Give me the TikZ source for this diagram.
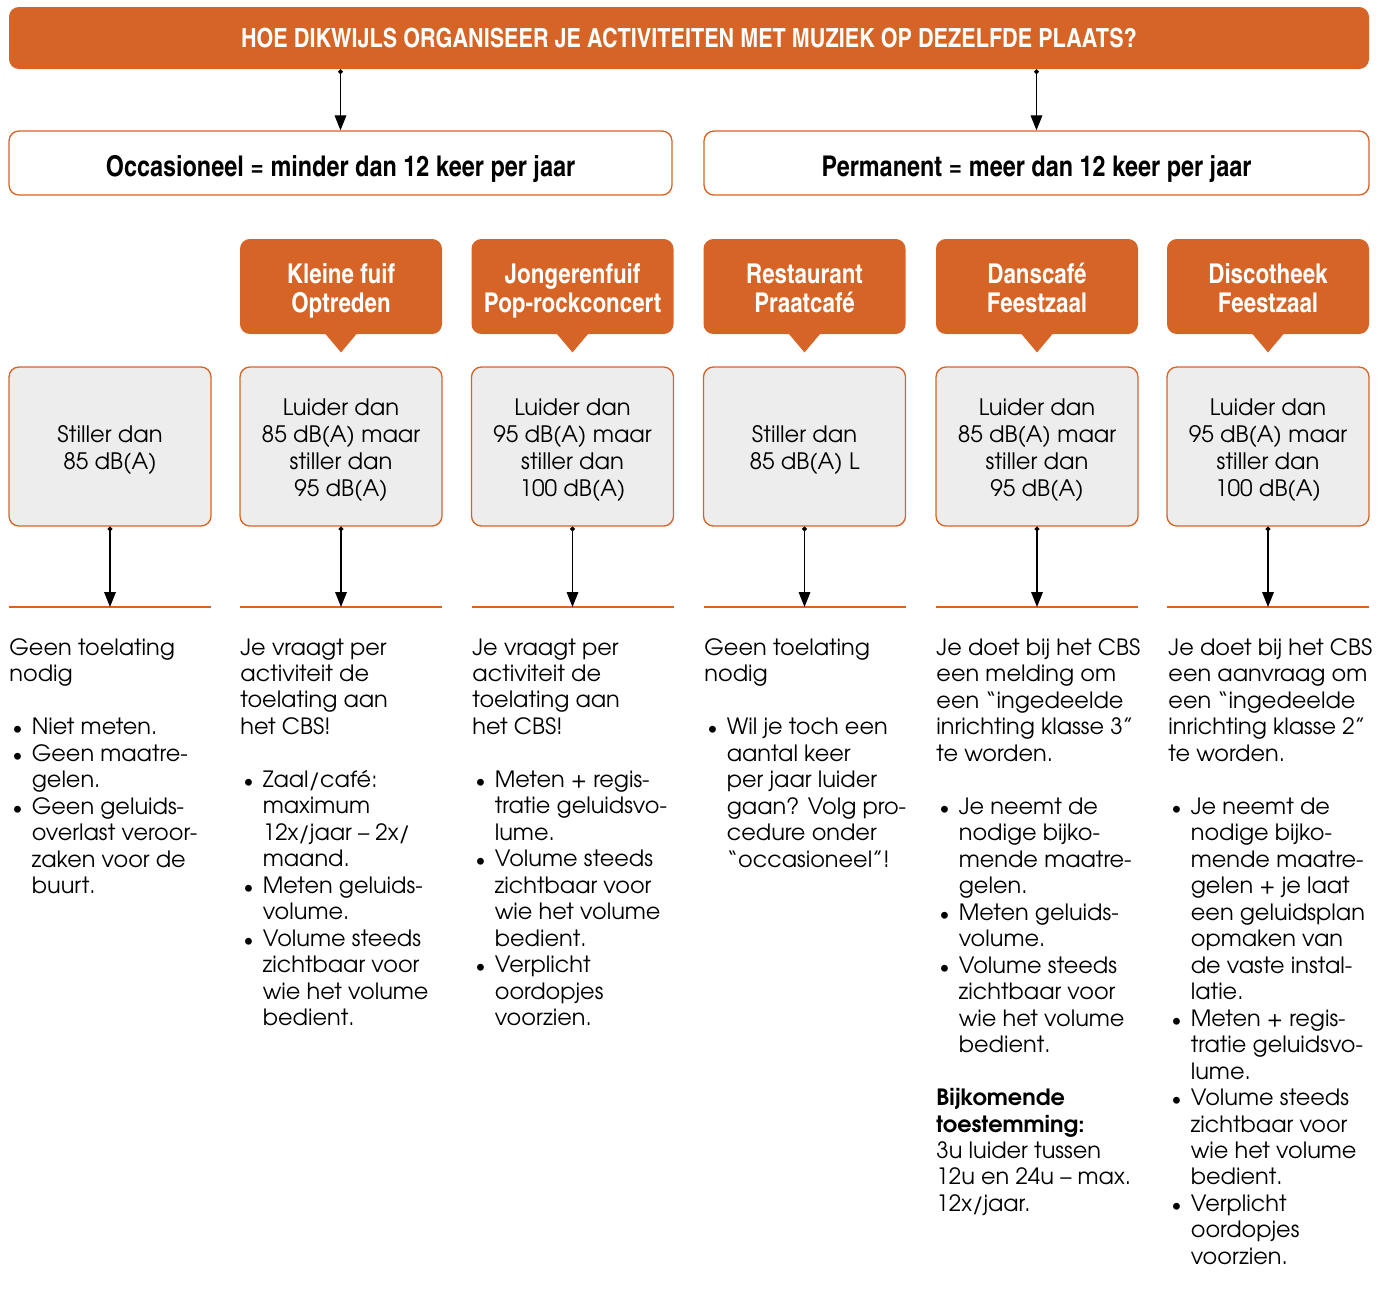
\documentclass[tikz,border=0pt]{standalone}
\usepackage{fontspec}
\setmainfont{texgyreadventor}[Extension=.otf,UprightFont=*-regular,BoldFont=*-bold,ItalicFont=*-italic,BoldItalicFont=*-bolditalic]
\newfontfamily\kopfont{texgyreheroscn}[Extension=.otf,UprightFont=*-bold,BoldFont=*-bold]
\usetikzlibrary{arrows.meta,positioning}
\definecolor{oranje}{RGB}{214,100,38}
\definecolor{lichtgrijs}{RGB}{237,237,237}
\def\pxu{0.455pt}
\newcommand\bul{\makebox[10.2pt][l]{\hspace{1.4pt}\scalebox{0.85}{\textbullet}}}
\newcommand\bsp{\makebox[10.2pt]{}}
\newcommand\bovenstrut{\rule{0pt}{12.2pt}}
\newcommand\onderstrut{\rule[-3.66pt]{0pt}{3.66pt}}
\tikzset{
  titelbalk/.style={fill=oranje,rounded corners=4.5pt,minimum width=1360*\pxu,minimum height=62*\pxu,
    text=white,text height=8.2pt,text depth=0pt,font=\kopfont\fontsize{12pt}{14pt}\selectfont},
  keuze/.style={draw=oranje,line width=0.6pt,fill=white,rounded corners=4.5pt,minimum height=64*\pxu,
    text height=14.8pt,text depth=2.9pt,font=\kopfont\fontsize{13pt}{15pt}\selectfont},
  soort/.style={fill=oranje,rounded corners=4.5pt,minimum width=202*\pxu,minimum height=95*\pxu,
    text=white,align=center,font=\kopfont\fontsize{12.4pt}{13.2pt}\selectfont},
  grens/.style={draw=oranje,line width=0.6pt,fill=lichtgrijs,rounded corners=4.5pt,minimum width=202*\pxu,
    minimum height=159*\pxu,align=center,font=\fontsize{10.3pt}{12.2pt}\selectfont},
  uitleg/.style={anchor=north west,inner sep=0pt,align=left,font=\fontsize{10.2pt}{12.05pt}\selectfont},
  pijl/.style={line width=0.5pt,{Circle[length=2.1pt]}-{Triangle[length=6.8pt,width=5.3pt]}},
  lijn/.style={draw=oranje,line width=1.3pt}
}
\begin{document}
\begin{tikzpicture}[x=\pxu,y=-\pxu]
    \useasboundingbox (0,0) rectangle (1383,1292);

    \node[titelbalk] (titel) at (689,38) {HOE DIKWIJLS ORGANISEER JE ACTIVITEITEN MET MUZIEK OP DEZELFDE PLAATS?};
    \node[keuze,minimum width=663*\pxu] (occ) at (340.5,163) {Occasioneel = minder dan 12 keer per jaar};
    \node[keuze,minimum width=665*\pxu] (perm) at (1036.5,163) {Permanent = meer dan 12 keer per jaar};
    \draw[pijl] (titel.south -| occ.north) -- (occ.north);
    \draw[pijl] (titel.south -| perm.north) -- (perm.north);

    \foreach \n/\x/\ra/\rb in {2/341/Kleine fuif/Optreden, 3/572.5/Jongerenfuif/Pop-rockconcert,
        4/804.5/Restaurant/Praatcafé, 5/1037/Danscafé/Feestzaal, 6/1268/Discotheek/Feestzaal} {
        \node[soort] (s\n) at (\x,286.5) {\rule{0pt}{14.4pt}\ra\\\rb\rule[-3.96pt]{0pt}{3.96pt}};
        \fill[oranje] ([xshift=-17*\pxu,yshift=1pt]s\n.south) -- ([xshift=17*\pxu,yshift=1pt]s\n.south)
            -- ([yshift=-18*\pxu]s\n.south) -- cycle;
    }

    \foreach \n/\x/\txt in {1/110/{Stiller dan\\85 dB(A)}, 2/341/{Luider dan\\85 dB(A) maar\\stiller dan\\95 dB(A)},
        3/572.5/{Luider dan\\95 dB(A) maar\\stiller dan\\100 dB(A)}, 4/804.5/{Stiller dan\\85 dB(A) L},
        5/1037/{Luider dan\\85 dB(A) maar\\stiller dan\\95 dB(A)}, 6/1268/{Luider dan\\95 dB(A) maar\\stiller dan\\100 dB(A)}} {
        \node[grens] (g\n) at (\x,446.5) {\bovenstrut\txt\onderstrut};
        \coordinate (l\n) at (\x,607);
        \draw[lijn] ([xshift=-101*\pxu]l\n) -- ([xshift=101*\pxu]l\n);
        \draw[pijl] (g\n.south) -- (l\n);
    }

    \node[uitleg] (t1) at (9,638) {Geen toelating\\nodig\\[12.05pt]
        \bul Niet meten.\\\bul Geen maatre-\\\bsp gelen.\\\bul Geen geluids-\\\bsp overlast veroor-\\\bsp zaken voor de\\\bsp buurt.};
    \node[uitleg] (t2) at (240,638) {Je vraagt per\\activiteit de\\toelating aan\\het CBS!\\[12.05pt]
        \bul Zaal/café:\\\bsp maximum\\\bsp 12x/jaar – 2x/\\\bsp maand.\\\bul Meten geluids-\\\bsp volume.\\
        \bul Volume steeds\\\bsp zichtbaar voor\\\bsp wie het volume\\\bsp bedient.};
    \node[uitleg] (t3) at (472,638) {Je vraagt per\\activiteit de\\toelating aan\\het CBS!\\[12.05pt]
        \bul Meten + regis-\\\bsp tratie geluidsvo-\\\bsp lume.\\\bul Volume steeds\\\bsp zichtbaar voor\\\bsp wie het volume\\\bsp bedient.\\
        \bul Verplicht\\\bsp oordopjes\\\bsp voorzien.};
    \node[uitleg] (t4) at (704,638) {Geen toelating\\nodig\\[12.05pt]
        \bul Wil je toch een\\\bsp aantal keer\\\bsp per jaar luider\\\bsp gaan? Volg pro-\\\bsp cedure onder\\\bsp “occasioneel”!};
    \node[uitleg] (t5) at (936,638) {Je doet bij het CBS\\een melding om\\een “ingedeelde\\inrichting klasse 3”\\te worden.\\[12.05pt]
        \bul Je neemt de\\\bsp nodige bijko-\\\bsp mende maatre-\\\bsp gelen.\\\bul Meten geluids-\\\bsp volume.\\
        \bul Volume steeds\\\bsp zichtbaar voor\\\bsp wie het volume\\\bsp bedient.\\[12.05pt]
        \textbf{Bijkomende}\\\textbf{toestemming:}\\3u luider tussen\\12u en 24u – max.\\12x/jaar.};
    \node[uitleg] (t6) at (1168,638) {Je doet bij het CBS\\een aanvraag om\\een “ingedeelde\\inrichting klasse 2”\\te worden.\\[12.05pt]
        \bul Je neemt de\\\bsp nodige bijko-\\\bsp mende maatre-\\\bsp gelen + je laat\\\bsp een geluidsplan\\\bsp opmaken van\\\bsp de vaste instal-\\\bsp latie.\\
        \bul Meten + regis-\\\bsp tratie geluidsvo-\\\bsp lume.\\\bul Volume steeds\\\bsp zichtbaar voor\\\bsp wie het volume\\\bsp bedient.\\
        \bul Verplicht\\\bsp oordopjes\\\bsp voorzien.};
\end{tikzpicture}
\end{document}
